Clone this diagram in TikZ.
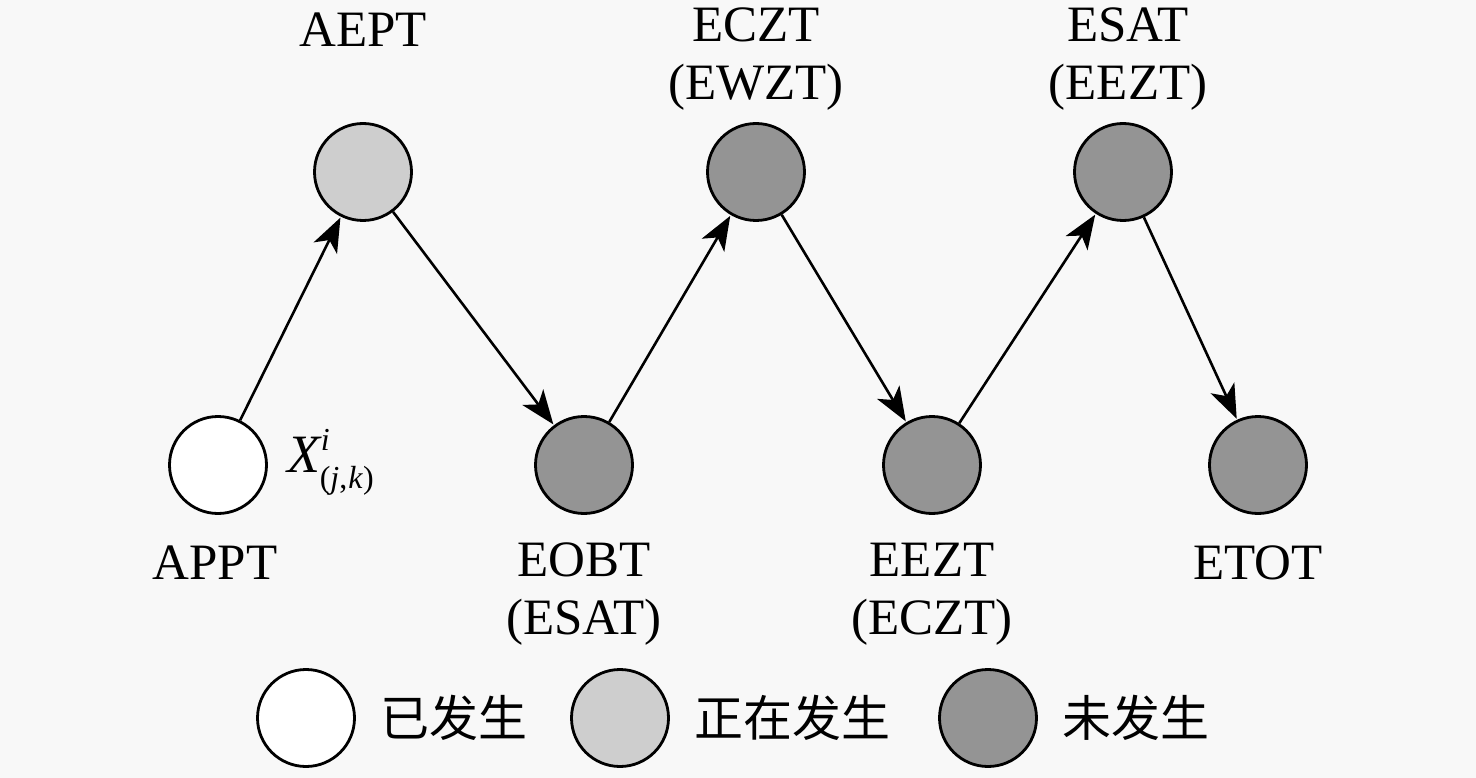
\documentclass[tikz,border=0pt]{standalone}
\usepackage{fontspec}
\setmainfont{Liberation Serif}
\newfontfamily\cjk{Noto Sans CJK SC}
\usetikzlibrary{arrows.meta}
\definecolor{bg}{RGB}{248,248,248}
\definecolor{lightg}{RGB}{206,206,206}
\definecolor{darkg}{RGB}{148,148,148}
\tikzset{
  st/.style={circle,draw=black,line width=2.8pt,minimum size=97pt,inner sep=0pt},
  done/.style={st,fill=white},
  now/.style={st,fill=lightg},
  todo/.style={st,fill=darkg},
  lab/.style={font=\fontsize{51}{58}\selectfont,align=center,inner sep=0pt},
  leg/.style={font=\cjk\fontsize{49}{52}\selectfont,anchor=west,inner sep=0pt},
  arr/.style={line width=2.6pt,-{Stealth[length=34pt,width=26pt,inset=9pt]},shorten >=1pt}
}
\begin{document}
\begin{tikzpicture}[x=1pt,y=-1pt]
\fill[bg] (0,0) rectangle (1476,778);
\useasboundingbox (0,0) rectangle (1476,778);
\node[done] (appt) at (218,465) {};
\node[now]  (aept) at (363,172) {};
\node[todo] (eobt) at (584,465) {};
\node[todo] (eczt) at (756,172) {};
\node[todo] (eezt) at (932,465) {};
\node[todo] (esat) at (1123,172) {};
\node[todo] (etot) at (1258,465) {};
\draw[arr] (appt) -- (aept);
\draw[arr] (aept) -- (eobt);
\draw[arr] (eobt) -- (eczt);
\draw[arr] (eczt) -- (eezt);
\draw[arr] (eezt) -- (esat);
\draw[arr] (esat) -- (etot);
\node[lab] (tappt) at (215,563) {APPT};
\node[lab] (taept) at (363,30) {AEPT};
\node[lab] (teczt) at (756,59) {ECZT\\(EWZT)};
\node[lab] (tesat) at (1128,59) {ESAT\\(EEZT)};
\node[lab] (teobt) at (584,594) {EOBT\\(ESAT)};
\node[lab] (teezt) at (932,594) {EEZT\\(ECZT)};
\node[lab] (tetot) at (1258,563) {ETOT};
\node[inner sep=0pt,anchor=west] (x) at (287,462) {\fontsize{54}{56}\selectfont\textit{X}\hspace{-1pt}\raisebox{22pt}{\fontsize{32}{34}\selectfont\textit{i}}\hspace{-10pt}\raisebox{-16pt}{\fontsize{32}{34}\selectfont(\textit{j},\hspace{1pt}\textit{k})}};
\node[done] (l1) at (306,718) {};
\node[leg] (t1) at (l1.east) [xshift=24pt] {已发生};
\node[now] (l2) at (620,718) {};
\node[leg] (t2) at (l2.east) [xshift=24pt] {正在发生};
\node[todo] (l3) at (988,718) {};
\node[leg] (t3) at (l3.east) [xshift=24pt] {未发生};
\end{tikzpicture}
\end{document}
